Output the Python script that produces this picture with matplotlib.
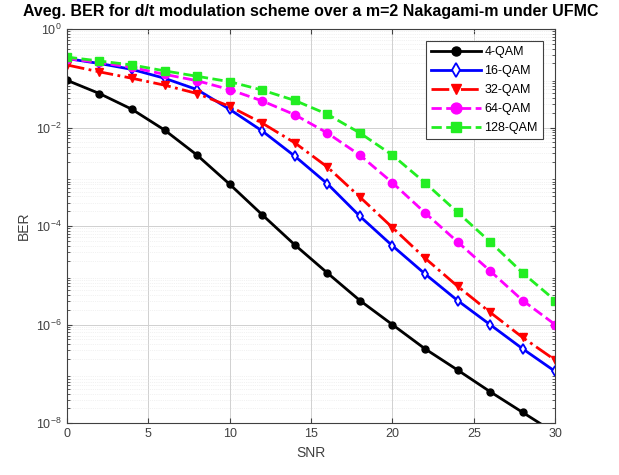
import numpy as np
import matplotlib
matplotlib.use('Agg')
import matplotlib.pyplot as plt

plt.rcParams['font.family'] = ['Liberation Sans', 'DejaVu Sans']

# SNR points (dB)
snr = [0, 2, 4, 6, 8, 10, 12, 14, 16, 18, 20, 22, 24, 26, 28, 30]

# log10(BER)
ber_4qam = [-1.04, -1.31, -1.63, -2.05, -2.56, -3.15, -3.77, -4.38, -4.95,
            -5.51, -6.00, -6.49, -6.92, -7.36, -7.78, -8.20]
ber_16qam = [-0.60, -0.70, -0.82, -1.00, -1.23, -1.63, -2.07, -2.58, -3.14,
             -3.80, -4.40, -4.97, -5.51, -6.00, -6.49, -6.95]
ber_32qam = [-0.73, -0.87, -1.00, -1.14, -1.31, -1.57, -1.91, -2.31, -2.80,
             -3.41, -4.03, -4.65, -5.22, -5.75, -6.26, -6.72]
ber_64qam = [-0.60, -0.68, -0.78, -0.92, -1.05, -1.23, -1.46, -1.74, -2.11,
             -2.56, -3.12, -3.73, -4.32, -4.91, -5.51, -6.00]
ber_128qam = [-0.57, -0.65, -0.73, -0.85, -0.96, -1.07, -1.24, -1.45, -1.73,
              -2.11, -2.56, -3.12, -3.72, -4.32, -4.95, -5.51]

labels = ['4-QAM', '16-QAM', '32-QAM', '64-QAM', '128-QAM']

fig = plt.figure(figsize=(6.19, 4.75), dpi=100)
ax = fig.add_axes([0.108, 0.109, 0.789, 0.830])

ax.semilogy(snr, 10 ** np.array(ber_4qam), '-o', color='black', lw=2, ms=5,
            mfc='black', label=labels[0])
ax.semilogy(snr, 10 ** np.array(ber_16qam), '-d', color='blue', lw=2, ms=5.5,
            mfc='white', mew=1.3, label=labels[1])
ax.semilogy(snr, 10 ** np.array(ber_32qam), '-.v', color='red', lw=2, ms=5.5,
            mfc='red', label=labels[2])
ax.semilogy(snr, 10 ** np.array(ber_64qam), '--o', color='magenta', lw=2, ms=6,
            mfc='magenta', label=labels[3])
ax.semilogy(snr, 10 ** np.array(ber_128qam), '--s', color='#22ee22', lw=2, ms=5.5,
            mfc='#22ee22', label=labels[4])

ax.set_xlim(0, 30)
ax.set_ylim(1e-8, 1)
ax.set_xticks([0, 5, 10, 15, 20, 25, 30])
ax.set_yticks([1e-8, 1e-6, 1e-4, 1e-2, 1])
ax.grid(True, which='major', color='#d0d0d0', lw=0.7)
ax.grid(True, which='minor', axis='y', color='#e6e6e6', lw=0.5, ls=':')
ax.tick_params(direction='in', which='both', top=True, right=True,
               labelsize=9, labelcolor='#404040', color='#404040')
ax.tick_params(which='minor', length=2)
for s in ax.spines.values():
    s.set_color('#404040')
    s.set_linewidth(0.8)

ax.set_xlabel('SNR', fontsize=10, color='#404040')
ax.set_ylabel('BER', fontsize=10, color='#404040')
ax.set_title('Aveg. BER for d/t modulation scheme over a m=2 Nakagami-m under UFMC',
             fontsize=11.5, fontweight='bold', pad=9)

leg = ax.legend(loc='upper right', fontsize=9, fancybox=False, framealpha=1,
                edgecolor='#404040', borderaxespad=1.0, handlelength=4.0,
                labelspacing=0.55, handletextpad=0.3, markerscale=1.3)
leg.get_frame().set_linewidth(0.8)

fig.savefig('out.png', dpi=100)
